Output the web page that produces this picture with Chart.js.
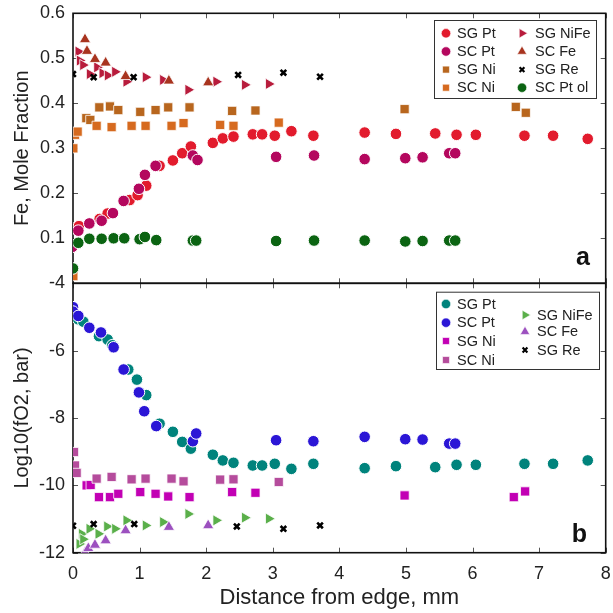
<!DOCTYPE html>
<html>
<head>
<meta charset="utf-8">
<script src="https://cdn.jsdelivr.net/npm/chart.js@4.4.0/dist/chart.umd.min.js"></script>
<style>
  html, body { margin: 0; padding: 0; background: #fff; }
  #wrap { position: relative; width: 613px; height: 613px; overflow: hidden; }
  canvas { position: absolute; left: 0; }
  #topChart { top: 0; }
  #bottomChart { top: 270px; }
</style>
</head>
<body>
<div id="wrap">
  <canvas id="topChart" width="613" height="300"></canvas>
  <canvas id="bottomChart" width="613" height="343"></canvas>
</div>
<script>
const xTicks = [0, 1, 2, 3, 4, 5, 6, 7, 8];
const topYTicks = [0.1, 0.2, 0.3, 0.4, 0.5, 0.6];
const bottomYTicks = [-12, -10, -8, -6, -4];

const seriesNames = ["SG Pt", "SC Pt", "SG Ni", "SC Ni", "SG NiFe", "SC Fe", "SG Re", "SC Pt ol"];

// panel a: Fe mole fraction
const topSGPt = [[-0.01, 0.122], [0.09, 0.127], [0.40, 0.143], [0.52, 0.155], [0.85, 0.185], [0.97, 0.196],
  [1.10, 0.217], [1.30, 0.261], [1.50, 0.273], [1.64, 0.289], [1.77, 0.304], [2.10, 0.312], [2.25, 0.322],
  [2.41, 0.326], [2.70, 0.331], [2.84, 0.331], [3.03, 0.328], [3.28, 0.338], [3.61, 0.328], [4.38, 0.335],
  [4.85, 0.332], [5.44, 0.333], [5.76, 0.330], [6.05, 0.330], [6.78, 0.328], [7.21, 0.328], [7.73, 0.321]];
const topSCPt = [[-0.01, 0.081], [0.08, 0.117], [0.245, 0.133], [0.43, 0.139], [0.60, 0.156], [0.76, 0.183],
  [0.99, 0.210], [1.08, 0.241], [1.24, 0.261], [1.80, 0.284], [1.87, 0.274], [3.05, 0.281], [3.62, 0.284],
  [4.38, 0.276], [4.99, 0.278], [5.25, 0.280], [5.65, 0.289], [5.74, 0.289]];
const topSGNi = [[0.20, 0.367], [0.26, 0.363], [0.395, 0.391], [0.555, 0.393], [0.68, 0.385], [1.01, 0.381],
  [1.24, 0.385], [1.43, 0.391], [1.75, 0.391], [2.39, 0.383], [2.74, 0.384], [4.98, 0.387], [6.65, 0.392],
  [6.80, 0.379]];
const topSCNi = [[0.005, 0.300], [0.03, 0.330], [0.07, 0.337], [0.355, 0.350], [0.58, 0.347], [0.88, 0.350],
  [1.09, 0.350], [1.48, 0.350], [1.66, 0.356], [2.21, 0.352], [2.41, 0.350], [3.09, 0.357], [0.005, 0.016]];
const topSGNiFe = [[0.08, 0.515], [0.10, 0.495], [0.15, 0.485], [0.25, 0.465], [0.36, 0.480], [0.44, 0.467],
  [0.52, 0.462], [0.63, 0.470], [0.80, 0.448], [1.09, 0.458], [1.35, 0.452], [1.73, 0.430], [2.15, 0.448],
  [2.58, 0.441], [2.94, 0.443]];
const topSCFe = [[0.18, 0.542], [0.21, 0.516], [0.33, 0.498], [0.49, 0.490], [0.79, 0.460], [1.44, 0.450],
  [2.03, 0.446]];
const topSGRe = [[0.0, 0.465], [0.31, 0.458], [0.91, 0.458], [2.48, 0.463], [3.16, 0.468], [3.71, 0.459]];
const topSCPtOl = [[0.0, 0.033], [0.08, 0.090], [0.245, 0.099], [0.43, 0.099], [0.61, 0.100], [0.77, 0.100],
  [1.00, 0.098], [1.08, 0.103], [1.25, 0.096], [1.80, 0.095], [1.85, 0.095], [3.05, 0.094], [3.62, 0.095],
  [4.38, 0.095], [4.99, 0.093], [5.25, 0.094], [5.65, 0.095], [5.74, 0.095]];

// panel b: log10 fO2
const bottomSGPt = [[0.005, -4.94], [0.08, -5.07], [0.155, -5.14], [0.39, -5.57], [0.52, -5.67], [0.59, -5.84],
  [0.83, -6.56], [0.96, -6.86], [1.10, -7.32], [1.30, -8.17], [1.50, -8.41], [1.64, -8.71], [1.77, -8.91],
  [2.10, -9.09], [2.25, -9.26], [2.41, -9.33], [2.70, -9.41], [2.84, -9.41], [3.03, -9.36], [3.28, -9.51],
  [3.61, -9.36], [4.38, -9.49], [4.85, -9.43], [5.44, -9.46], [5.76, -9.39], [6.05, -9.39], [6.78, -9.36],
  [7.21, -9.36], [7.73, -9.26]];
const bottomSCPt = [[0.0, -4.71], [0.0, -4.84], [0.08, -4.97], [0.245, -5.32], [0.42, -5.46], [0.61, -5.90],
  [0.76, -6.56], [0.99, -7.24], [1.07, -7.80], [1.25, -8.24], [1.80, -8.69], [1.85, -8.46], [3.05, -8.66],
  [3.61, -8.69], [4.38, -8.56], [4.99, -8.63], [5.25, -8.64], [5.65, -8.76], [5.74, -8.76]];
const bottomSGNi = [[0.205, -10.00], [0.265, -9.99], [0.39, -10.35], [0.555, -10.35], [0.68, -10.25],
  [1.01, -10.20], [1.24, -10.25], [1.43, -10.33], [1.75, -10.35], [2.39, -10.20], [2.74, -10.22],
  [4.98, -10.30], [6.62, -10.35], [6.79, -10.18]];
const bottomSCNi = [[0.015, -9.01], [0.03, -9.41], [0.055, -9.63], [0.355, -9.80], [0.58, -9.75], [0.88, -9.82],
  [1.09, -9.80], [1.48, -9.80], [1.66, -9.88], [2.21, -9.83], [2.41, -9.82], [3.09, -9.90]];
const bottomSGNiFe = [[0.095, -11.74], [0.13, -11.44], [0.15, -11.60], [0.245, -11.29], [0.38, -11.44],
  [0.51, -11.22], [0.63, -11.29], [0.80, -11.04], [1.09, -11.19], [1.35, -11.09], [1.73, -10.85],
  [2.15, -11.04], [2.58, -10.96], [2.94, -10.99]];
const bottomSCFe = [[0.18, -12.00], [0.23, -11.87], [0.33, -11.77], [0.49, -11.64], [0.79, -11.34],
  [1.44, -11.24], [2.03, -11.19]];
const bottomSGRe = [[0.0, -11.20], [0.31, -11.15], [0.92, -11.15], [2.46, -11.22], [3.16, -11.29], [3.71, -11.19]];

const FONT = '"Liberation Sans", Arial, Helvetica, sans-serif';
const TEXT = "#222";

const shapes = {
  circle: { pointStyle: "circle", pointRadius: 5.8, pointBorderWidth: 1, pointBorderColor: "#fff", rotation: 0 },
  square: { pointStyle: "rect", pointRadius: 6.5, pointBorderWidth: 0.8, pointBorderColor: "#fff", rotation: 0 },
  up: { pointStyle: "triangle", pointRadius: 6.5, pointBorderWidth: 0.8, pointBorderColor: "#fff", rotation: 0 },
  right: { pointStyle: "triangle", pointRadius: 6.5, pointBorderWidth: 0.8, pointBorderColor: "#fff", rotation: 90 },
  cross: { pointStyle: "crossRot", pointRadius: 4, pointBorderWidth: 2.6, rotation: 0 }
};

function makeDataset(label, points, color, shape, index, count) {
  const s = shapes[shape];
  return {
    label,
    data: points.map((p) => ({ x: p[0], y: p[1] })),
    showLine: false,
    order: count - index,
    pointStyle: s.pointStyle,
    pointRotation: s.rotation,
    radius: s.pointRadius,
    hoverRadius: s.pointRadius,
    pointBackgroundColor: color,
    pointBorderColor: shape === "cross" ? color : s.pointBorderColor,
    pointBorderWidth: s.pointBorderWidth,
    legendShape: shape,
    legendColor: color
  };
}

const framePlugin = {
  id: "frame",
  beforeDatasetsDraw(chart) {
    const { ctx, chartArea: a, scales } = chart;
    const tick = 5;
    ctx.save();
    ctx.strokeStyle = "#555";
    ctx.lineWidth = 1;
    ctx.beginPath();
    scales.x.ticks.forEach((t) => {
      const px = Math.round(scales.x.getPixelForValue(t.value)) + 0.5;
      ctx.moveTo(px, a.bottom);
      ctx.lineTo(px, a.bottom - tick);
      ctx.moveTo(px, a.top);
      ctx.lineTo(px, a.top + tick);
    });
    scales.y.ticks.forEach((t) => {
      const py = Math.round(scales.y.getPixelForValue(t.value)) + 0.5;
      ctx.moveTo(a.left, py);
      ctx.lineTo(a.left + tick, py);
      ctx.moveTo(a.right, py);
      ctx.lineTo(a.right - tick, py);
    });
    ctx.stroke();
    ctx.strokeStyle = "#111";
    ctx.lineWidth = 1.6;
    ctx.strokeRect(a.left, a.top, a.right - a.left, a.bottom - a.top);
    ctx.restore();
  }
};

const legendSizes = { circle: 4.7, square: 4.9, up: 5.5, right: 5.5, cross: 3.4 };

const boxLegendPlugin = {
  id: "boxLegend",
  afterDatasetsDraw(chart, args, opts) {
    const { ctx } = chart;
    const [x0, y0, x1, y1] = opts.box;
    ctx.save();
    ctx.fillStyle = "#fff";
    ctx.fillRect(x0, y0, x1 - x0, y1 - y0);
    ctx.strokeStyle = "#333";
    ctx.lineWidth = 1;
    ctx.strokeRect(x0 + 0.5, y0 + 0.5, x1 - x0, y1 - y0);
    ctx.font = "14.5px " + FONT;
    ctx.textBaseline = "middle";
    ctx.textAlign = "left";
    chart.data.datasets.forEach((ds, i) => {
      const [mx, tx, my] = opts.slots[i];
      const s = shapes[ds.legendShape];
      ctx.fillStyle = ds.legendColor;
      ctx.strokeStyle = ds.legendShape === "cross" ? ds.legendColor : "#fff";
      ctx.lineWidth = ds.legendShape === "cross" ? 2.2 : 0.6;
      Chart.helpers.drawPoint(ctx, {
        pointStyle: s.pointStyle,
        rotation: s.rotation,
        radius: legendSizes[ds.legendShape],
        borderWidth: ctx.lineWidth
      }, mx, my);
      ctx.fillStyle = TEXT;
      ctx.fillText(ds.label, tx, my + 0.5);
    });
    ctx.font = "bold 25px " + FONT;
    ctx.fillStyle = "#111";
    ctx.textAlign = "right";
    ctx.textBaseline = "alphabetic";
    ctx.fillText(opts.panel[0], opts.panel[1], opts.panel[2]);
    ctx.restore();
  }
};

function makeChart(canvasId, datasets, cfg) {
  return new Chart(document.getElementById(canvasId), {
    type: "scatter",
    data: { datasets },
    options: {
      responsive: false,
      animation: false,
      events: [],
      layout: { padding: { top: cfg.padTop, right: 6, left: 0, bottom: 0 } },
      plugins: {
        legend: { display: false },
        tooltip: { enabled: false },
        boxLegend: cfg.legend
      },
      scales: {
        x: {
          type: "linear",
          min: 0,
          max: 8,
          afterBuildTicks: (s) => { s.ticks = xTicks.map((v) => ({ value: v })); },
          afterFit: (s) => {
            s.height = cfg.xHeight;
            s.paddingLeft = 0;
            s.paddingRight = 0;
          },
          grid: { display: false, drawTicks: false },
          border: { display: false },
          ticks: {
            display: cfg.showX,
            padding: 11,
            color: TEXT,
            font: { family: FONT, size: 18 },
            maxRotation: 0,
            callback: (v) => String(v)
          },
          title: {
            display: cfg.showX,
            text: "Distance from edge, mm",
            color: TEXT,
            font: { family: FONT, size: 22 },
            padding: { top: 0, bottom: 2 }
          }
        },
        y: {
          type: "linear",
          min: cfg.yMin,
          max: cfg.yMax,
          afterBuildTicks: (s) => { s.ticks = cfg.yTicks.map((v) => ({ value: v })); },
          afterFit: (s) => {
            s.width = 73;
            s.paddingTop = 0;
            s.paddingBottom = 0;
          },
          grid: { display: false, drawTicks: false },
          border: { display: false },
          ticks: {
            padding: 8,
            color: TEXT,
            font: { family: FONT, size: 18 },
            callback: cfg.yFormat
          },
          title: {
            display: true,
            text: cfg.yTitle,
            color: TEXT,
            font: { family: FONT, size: 20 },
            padding: { top: 10, bottom: 0 }
          }
        }
      }
    },
    plugins: [framePlugin, boxLegendPlugin]
  });
}

const topColors = ["#e21b2d", "#b4075e", "#b8661e", "#d66a1f", "#b81c3c", "#a8341f", "#000000", "#0b6412"];
const topShapes = ["circle", "circle", "square", "square", "right", "up", "cross", "circle"];
const topSeries = [topSGPt, topSCPt, topSGNi, topSCNi, topSGNiFe, topSCFe, topSGRe, topSCPtOl];

const bottomColors = ["#00837c", "#2b16d6", "#c200b4", "#b54c9c", "#5aaf4a", "#9c50bf", "#000000"];
const bottomShapes = ["circle", "circle", "square", "square", "right", "up", "cross"];
const bottomSeries = [bottomSGPt, bottomSCPt, bottomSGNi, bottomSCNi, bottomSGNiFe, bottomSCFe, bottomSGRe];

makeChart("topChart",
  topSeries.map((pts, i) => makeDataset(seriesNames[i], pts, topColors[i], topShapes[i], i, topSeries.length)),
  {
    padTop: 13.3, xHeight: 16.7, showX: false,
    yMin: 0, yMax: 0.6, yTicks: topYTicks, yTitle: "Fe, Mole Fraction",
    yFormat: (v) => v.toFixed(1),
    legend: {
      box: [434, 20, 596, 98],
      slots: [[446, 457, 33.3], [446, 457, 51.5], [446, 457, 69.6], [446, 457, 87.7],
        [522, 535, 33.3], [522, 535, 51.5], [522, 535, 69.6], [522, 535, 87.7]],
      panel: ["a", 590, 265]
    }
  });

makeChart("bottomChart",
  bottomSeries.map((pts, i) => makeDataset(seriesNames[i], pts, bottomColors[i], bottomShapes[i], i, bottomSeries.length)),
  {
    padTop: 13.3, xHeight: 60.3, showX: true,
    yMin: -12, yMax: -4, yTicks: bottomYTicks, yTitle: "Log10(fO2, bar)",
    yFormat: (v) => String(v),
    legend: {
      box: [436, 21.7, 599, 99],
      slots: [[446, 457, 34], [446, 457, 52.7], [446, 457, 71], [446, 457, 90],
        [525, 537, 45], [525, 537, 61.7], [525, 537, 80]],
      panel: ["b", 587, 272]
    }
  });
</script>
</body>
</html>
